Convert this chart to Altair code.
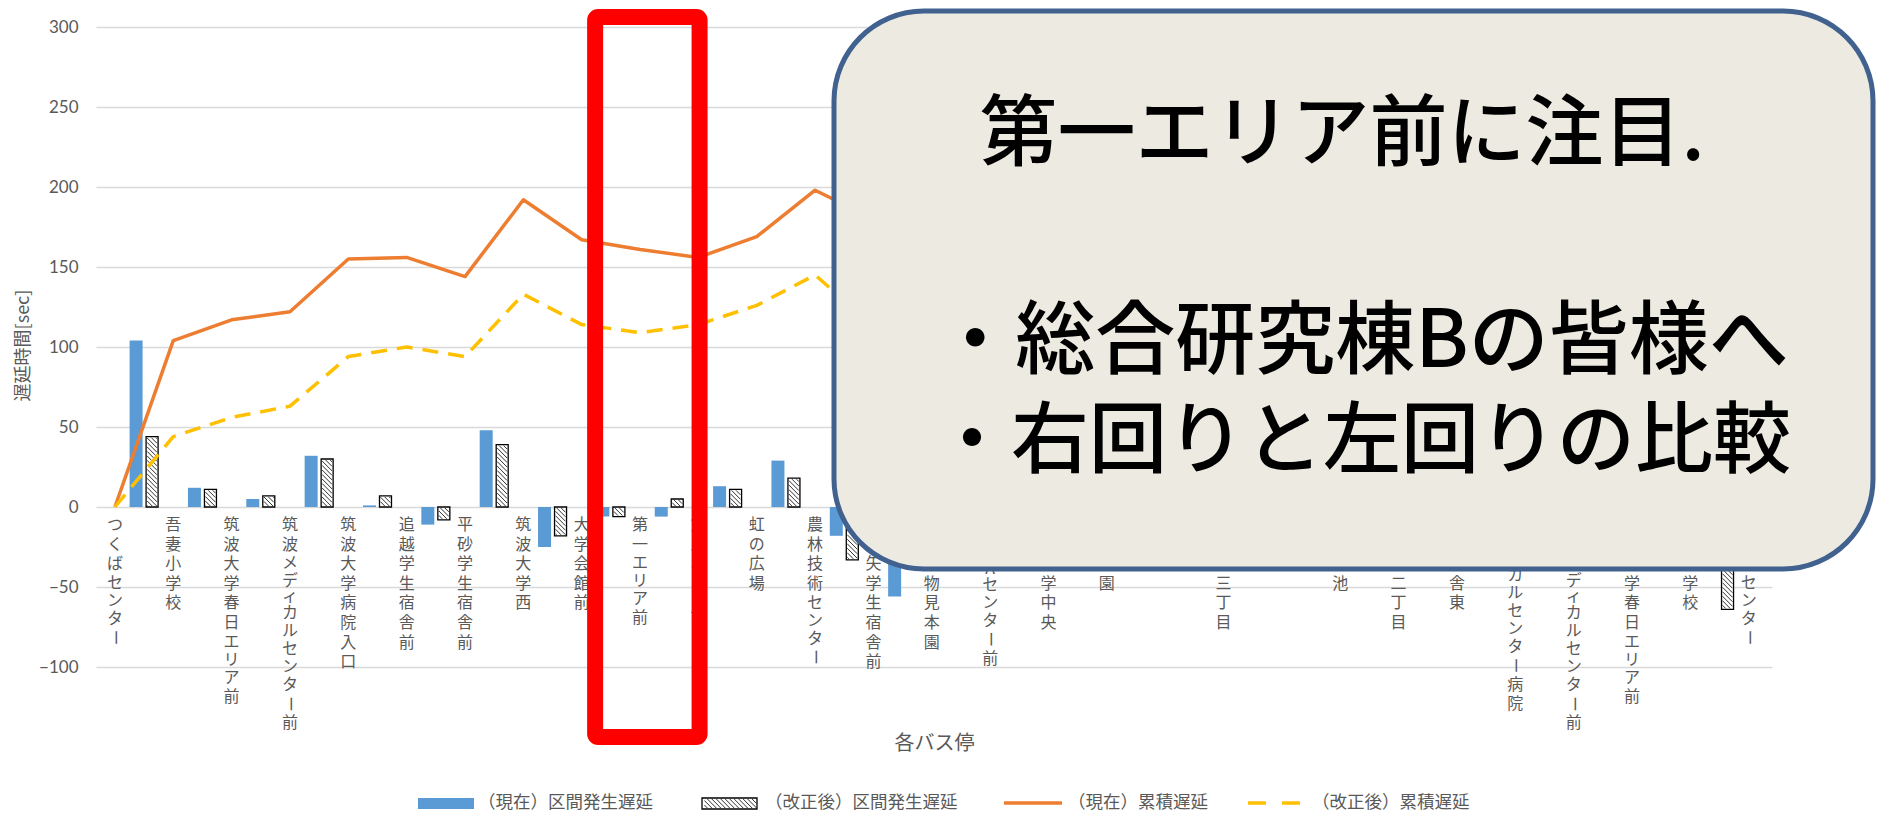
import altair as alt
import pandas as pd
import numpy as np

# ---------------- data ----------------
stops = ["つくばセンター", "吾妻小学校", "筑波大学春日エリア前", "筑波メディカルセンター前",
         "筑波大学病院入口", "追越学生宿舎前", "平砂学生宿舎前", "筑波大学西", "大学会館前",
         "第一エリア前", "第三エリア前", "虹の広場", "農林技術センター", "一の矢学生宿舎前",
         "大学植物見本園", "TARAセンター前", "筑波大学中央", "大学公園", "松美池", "天久保三丁目",
         "合宿所", "天久保池", "天久保二丁目", "追越宿舎東", "メディカルセンター病院",
         "筑波メディカルセンター前", "筑波大学春日エリア前", "吾妻小学校", "つくばセンター"]

cur_cum = [0, 104, 117, 122, 155, 156, 144, 192, 167, 161, 156, 169, 198, 180, 125,
           118, 130, 122, 115, 128, 121, 113, 120, 112, 118, 110, 104, 98, 68]
rev_cum = [0, 44, 56, 63, 94, 100, 94, 133, 114, 109, 114, 126, 145, 113, 100,
           95, 104, 98, 92, 101, 95, 90, 96, 89, 94, 88, 83, 79, 15]
cur_seg = [104, 12, 5, 32, 1, -11, 48, -25, -6, -6, 13, 29, -18, -56,
           -7, 12, -8, -7, 13, -7, -8, 7, -8, 6, -8, -6, -6, -30]
rev_seg = [44, 11, 7, 30, 7, -8, 39, -18, -6, 5, 11, 18, -33, -13,
           -5, 9, -6, -6, 9, -6, -5, 6, -7, 5, -6, -5, -4, -64]

series = ["（現在）区間発生遅延", "（改正後）区間発生遅延", "（現在）累積遅延", "（改正後）累積遅延"]
y_ticks = [-100, -50, 0, 50, 100, 150, 200, 250, 300]
y_title = "遅延時間[sec]"
x_title = "各バス停"
callout = ["第一エリア前に注目.", "・総合研究棟Bの皆様へ", "・右回りと左回りの比較"]
highlight = 9

# ---------------- layout constants ----------------
W, H = 1676, 640
X0_PX, STEP = 14.0, 58.7
XMIN = -X0_PX / STEP
XMAX = (W - X0_PX) / STEP
YMIN, YMAX = -100, 300
PXY = H / (YMAX - YMIN)

BLUE, ORANGE, YELLOW, GRAY = "#5B9BD5", "#ED7D31", "#FFC000", "#595959"
JP = "Noto Sans CJK JP"


def xd(px):
    return XMIN + px / W * (XMAX - XMIN)


def xp(d):
    return (d - XMIN) / (XMAX - XMIN) * W


def yd(py):
    return YMAX - py / PXY


def hatch(x0, x1, y0, y1, s=4.5):
    out = []
    cmin, cmax = y0 - x1, y1 - x0
    for k in range(int(np.floor(cmin / s)), int(np.ceil(cmax / s)) + 1):
        c = k * s
        xs_ = max(x0, y0 - c)
        xe_ = min(x1, y1 - c)
        if xe_ - xs_ > 0.4:
            out.append({"x": xd(xs_), "x2": xd(xe_), "y": yd(xs_ + c), "y2": yd(xe_ + c)})
    return out


xs = alt.Scale(domain=[XMIN, XMAX], nice=False, zero=False)
ys = alt.Scale(domain=[YMIN, YMAX], nice=False, zero=False)

xaxis = alt.Axis(labels=False, ticks=False, domain=False, grid=False, title=x_title,
                 titleFont=JP, titleFontSize=20, titleFontWeight="normal", titleColor=GRAY,
                 titleY=76, titleBaseline="middle")
yaxis = alt.Axis(values=y_ticks, grid=True, gridColor="#D9D9D9", gridWidth=1.3, domain=False,
                 ticks=False, tickSize=0, labelFont="Lato", labelFontSize=17, labelColor=GRAY,
                 labelPadding=18, title=y_title, titleFont=JP, titleFontSize=18,
                 titleFontWeight="normal", titleColor=GRAY, titleX=-73, titleY=318,
                 titleAngle=-90, titleAlign="center", titleBaseline="middle")


def X(f):
    return alt.X(f, scale=xs, axis=xaxis)


def Y(f):
    return alt.Y(f, scale=ys, axis=yaxis)


seg_df = pd.DataFrame({"pos": [i - 0.5 for i in range(1, len(stops))],
                       "cur": cur_seg, "rev": rev_seg})
stop_df = pd.DataFrame({"idx": list(range(len(stops))), "cur": cur_cum, "rev": rev_cum})

# hatch lines inside hatched bars
hrows = []
for p, v in zip(seg_df["pos"], rev_seg):
    cx = xp(p) + 8
    top = (YMAX - max(v, 0)) * PXY
    bot = (YMAX - min(v, 0)) * PXY
    hrows += hatch(cx - 5, cx + 5, top + 1, bot - 1)
# legend swatch hatch
hrows += hatch(607, 660, 772, 781)
hatch_df = pd.DataFrame(hrows)

# vertical stacked category labels
SMALL = set("ァィゥェォッャュョヮ")


def adv(ch):
    if ch == "ー":
        return 19.0
    if ch in SMALL:
        return 14.0
    if ch.isascii():
        return 14.5
    if "\u30a0" <= ch <= "\u30ff":
        return 18.0
    return 19.6


lrows = []
zero_px = (YMAX - 0) * PXY
for i, name in enumerate(stops):
    pos = 0.0
    prev = None
    for ch in name:
        if prev is not None:
            pos += (adv(prev) + adv(ch)) / 2
        lrows.append({"idx": i, "ch": ch, "y": yd(zero_px + 18 + pos),
                      "rot": 1 if ch == "ー" else 0})
        prev = ch
lab_df = pd.DataFrame(lrows)

# ---------------- layers ----------------
blue = alt.Chart(seg_df).mark_bar(orient="vertical", size=13, xOffset=-8, color=BLUE).encode(
    x=X("pos:Q"), y=Y("cur:Q"), y2=alt.datum(0))

hbar = alt.Chart(seg_df).mark_bar(orient="vertical", size=12, xOffset=8, fill="white",
                                  stroke="black", strokeWidth=1.3).encode(
    x=X("pos:Q"), y=Y("rev:Q"), y2=alt.datum(0))

one = pd.DataFrame({"k": [0]})
leg_hatch_box = alt.Chart(one).mark_rect(fill="white", stroke="black", strokeWidth=1.3).encode(
    x=alt.value(606), x2=alt.value(661), y=alt.value(771), y2=alt.value(782))

hlines = alt.Chart(hatch_df).mark_rule(color="#333333", strokeWidth=1).encode(
    x=X("x:Q"), x2="x2:Q", y=Y("y:Q"), y2="y2:Q")

oline = alt.Chart(stop_df).mark_line(color=ORANGE, strokeWidth=3.5, strokeJoin="round").encode(
    x=X("idx:Q"), y=Y("cur:Q"))

yline = alt.Chart(stop_df).mark_line(color=YELLOW, strokeWidth=3.5, strokeDash=[16, 10],
                                     strokeJoin="round").encode(
    x=X("idx:Q"), y=Y("rev:Q"))

lab_norm = alt.Chart(lab_df).transform_filter("datum.rot == 0").mark_text(
    font=JP, fontSize=16, color=GRAY, align="center", baseline="middle").encode(
    x=X("idx:Q"), y=Y("y:Q"), text="ch:N")
lab_rot = alt.Chart(lab_df).transform_filter("datum.rot == 1").mark_text(
    font=JP, fontSize=16, color=GRAY, align="center", baseline="middle", angle=90).encode(
    x=X("idx:Q"), y=Y("y:Q"), text="ch:N")

red = alt.Chart(one).transform_calculate(
    a=f"{highlight} - 0.77", b=f"{highlight} + 1.02").mark_rect(
    fillOpacity=0, stroke="#FF0000", strokeWidth=16, cornerRadius=3).encode(
    x=X("a:Q"), x2="b:Q", y=alt.value(-10), y2=alt.value(710))

box = alt.Chart(one).mark_rect(fill="#EDEBE1", stroke="#41618F", strokeWidth=5, cornerRadius=90).encode(
    x=alt.value(738), x2=alt.value(1777), y=alt.value(-16), y2=alt.value(542))

txt_layers = []
for t, (tx, ty, fs) in zip(callout, [(1246, 110, 78), (1266, 316, 80), (1266, 417, 78)]):
    txt_layers.append(alt.Chart(pd.DataFrame({"t": [t]})).mark_text(
        font=JP, fontSize=fs, fontWeight=500, color="black", align="center", baseline="middle").encode(
        x=alt.value(tx), y=alt.value(ty), text="t:N"))

# legend
leg = []
leg.append(alt.Chart(one).mark_rect(color=BLUE).encode(
    x=alt.value(322), x2=alt.value(378), y=alt.value(771), y2=alt.value(782)))
leg.append(alt.Chart(one).mark_rule(color=ORANGE, strokeWidth=3.5).encode(
    x=alt.value(908), x2=alt.value(966), y=alt.value(776)))
leg.append(alt.Chart(one).mark_rule(color=YELLOW, strokeWidth=3.5, strokeDash=[18, 16]).encode(
    x=alt.value(1152), x2=alt.value(1204), y=alt.value(776)))
for name, lx in zip(series, [382, 669, 972, 1216]):
    leg.append(alt.Chart(pd.DataFrame({"t": [name]})).mark_text(
        font=JP, fontSize=17.5, color=GRAY, align="left", baseline="middle").encode(
        x=alt.value(lx), y=alt.value(776), text="t:N"))

chart = alt.layer(blue, hbar, leg_hatch_box, hlines, oline, yline, lab_norm, lab_rot, red, box,
                  *txt_layers, *leg).properties(
    width=W, height=H,
    padding={"left": 88, "top": 19, "right": 105, "bottom": 147},
    autosize=alt.AutoSizeParams(type="none"),
    background="white",
).configure_view(stroke=None)

chart.save("out.html", embed_options={"renderer": "svg", "actions": False})
